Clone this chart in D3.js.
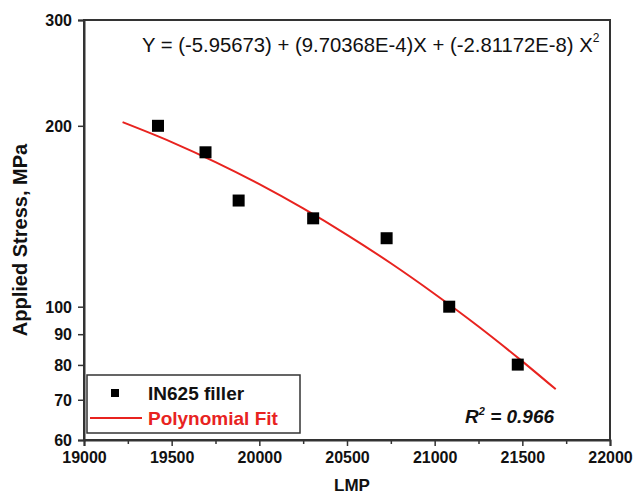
<!DOCTYPE html>
<html>
<head>
<meta charset="utf-8">
<script src="https://cdn.jsdelivr.net/npm/d3@7"></script>
<style>
  body { margin: 0; background: #fff; }
  text { font-family: "Liberation Sans", Arial, sans-serif; }
</style>
</head>
<body>
<div id="chart"></div>
<script>
// measured points (LMP, stress in MPa)
var lmp = [19422, 19693, 19882, 20307, 20726, 21083, 21474];
var stress = [200, 180.7, 150.2, 140.3, 130, 100, 80.1];
// polynomial fit curve
var fitX = [19220, 19500, 19750, 20000, 20250, 20500, 20750, 21000, 21250, 21500, 21690];
var fitY = [202.8, 187.9, 174.0, 159.9, 145.7, 131.7, 118.1, 105.0, 92.7, 81.1, 72.9];
var xTicks = [19000, 19500, 20000, 20500, 21000, 21500, 22000];
var xMinor = [19250, 19750, 20250, 20750, 21250, 21750];
var yTicks = [60, 70, 80, 90, 100, 200, 300];

var width = 634, height = 501;
var margin = {top: 20, right: 24, bottom: 61, left: 84};

var svg = d3.select('#chart').append('svg')
  .attr('width', width)
  .attr('height', height);

var x = d3.scaleLinear().domain([19000, 22000]).range([margin.left, width - margin.right]);
var y = d3.scaleLog().domain([60, 300]).range([height - margin.bottom, margin.top]);

var axisColor = '#333';

// frame
svg.append('rect')
  .attr('x', x(19000)).attr('y', y(300))
  .attr('width', x(22000) - x(19000)).attr('height', y(60) - y(300))
  .attr('fill', 'none').attr('stroke', axisColor).attr('stroke-width', 2);

svg.append('g')
  .attr('transform', 'translate(0,' + y(60) + ')')
  .call(d3.axisBottom(x).tickValues(xTicks).tickSize(6).tickPadding(6).tickFormat(d3.format('d')));
svg.append('g')
  .attr('transform', 'translate(0,' + y(60) + ')')
  .call(d3.axisBottom(x).tickValues(xMinor).tickSize(4).tickFormat(''))
  .call(function (g) { g.select('.domain').remove(); });

var yAxis = svg.append('g')
  .attr('transform', 'translate(' + x(19000) + ',0)')
  .call(d3.axisLeft(y).tickValues(yTicks).tickSize(6).tickPadding(6).tickFormat(d3.format('d')));

svg.selectAll('.domain').attr('stroke', axisColor).attr('stroke-width', 2);
svg.selectAll('.tick line').attr('stroke', axisColor).attr('stroke-width', 1.5);
svg.selectAll('.tick text')
  .style('font-family', '"Liberation Sans", Arial, sans-serif')
  .style('font-size', '16px')
  .style('font-weight', 'bold')
  .attr('fill', '#111');
yAxis.selectAll('.tick text').attr('dy', '0.36em');

// axis titles
svg.append('text')
  .attr('x', 352)
  .attr('y', 491)
  .attr('text-anchor', 'middle')
  .style('font-size', '17px')
  .style('font-weight', 'bold')
  .attr('fill', '#111')
  .text('LMP');

svg.append('text')
  .attr('transform', 'translate(27,240) rotate(-90)')
  .attr('text-anchor', 'middle')
  .style('font-size', '20px')
  .style('font-weight', 'bold')
  .attr('fill', '#111')
  .text('Applied Stress, MPa');

// fit line
var line = d3.line()
  .x(function (d, i) { return x(fitX[i]); })
  .y(function (d) { return y(d); })
  .curve(d3.curveMonotoneX);

svg.append('path')
  .datum(fitY)
  .attr('d', line)
  .attr('fill', 'none')
  .attr('stroke', '#e8231f')
  .attr('stroke-width', 2);

// points
var sq = 12;
svg.selectAll('rect.pt')
  .data(lmp)
  .enter().append('rect')
  .attr('class', 'pt')
  .attr('x', function (d) { return x(d) - sq / 2; })
  .attr('y', function (d, i) { return y(stress[i]) - sq / 2; })
  .attr('width', sq).attr('height', sq)
  .attr('fill', '#000');

// equation
var eq = svg.append('text')
  .attr('x', 142)
  .attr('y', 52)
  .style('font-size', '20.3px')
  .attr('fill', '#111');
eq.append('tspan').text('Y = (-5.95673) + (9.70368E-4)X + (-2.81172E-8) X');
eq.append('tspan').attr('dy', -10).style('font-size', '12px').text('2');

// R squared
var r2 = svg.append('text')
  .attr('x', 465)
  .attr('y', 423)
  .style('font-size', '19px')
  .style('font-weight', 'bold')
  .style('font-style', 'italic')
  .attr('fill', '#111');
r2.append('tspan').text('R');
r2.append('tspan').attr('dy', -8).style('font-size', '11px').text('2');
r2.append('tspan').attr('dy', 8).text(' = 0.966');

// legend
var lg = svg.append('g');
lg.append('rect')
  .attr('x', 87).attr('y', 375)
  .attr('width', 213).attr('height', 58)
  .attr('fill', '#fff').attr('stroke', axisColor).attr('stroke-width', 1.5);
lg.append('rect')
  .attr('x', 111).attr('y', 389)
  .attr('width', 8).attr('height', 8)
  .attr('fill', '#000');
lg.append('text')
  .attr('x', 148).attr('y', 400)
  .style('font-size', '19px').style('font-weight', 'bold')
  .attr('fill', '#111')
  .text('IN625 filler');
lg.append('line')
  .attr('x1', 90).attr('x2', 142)
  .attr('y1', 418).attr('y2', 418)
  .attr('stroke', '#e8231f').attr('stroke-width', 2);
lg.append('text')
  .attr('x', 148).attr('y', 425)
  .style('font-size', '19px').style('font-weight', 'bold')
  .attr('fill', '#e8231f')
  .text('Polynomial Fit');
</script>
</body>
</html>
